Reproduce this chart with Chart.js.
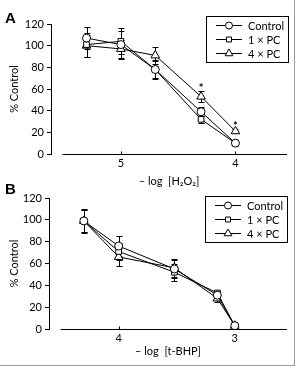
<!DOCTYPE html>
<html>
<head>
<meta charset="utf-8">
<script src="https://cdn.jsdelivr.net/npm/chart.js@4.4.1/dist/chart.umd.min.js"></script>
<style>
  html, body { margin: 0; padding: 0; background: #fff; }
  #frame { position: relative; width: 297px; height: 368px; overflow: hidden; }
  #frame::after { content: ""; position: absolute; left: 0; right: 2px; top: 0; bottom: 2px;
    border-right: 1px solid #999; border-bottom: 1px solid #999; pointer-events: none; }
  canvas { position: absolute; left: 0; }
  #chartA { top: 0; }
  #chartB { top: 184px; }
  .letter { position: absolute; left: 5px; font: bold 15px "Liberation Sans", Arial, sans-serif; }
</style>
</head>
<body>
<div id="frame">
  <canvas id="chartA" width="297" height="188"></canvas>
  <canvas id="chartB" width="297" height="184"></canvas>
  <div class="letter" style="top:9px">A</div>
  <div class="letter" style="top:180px">B</div>
</div>
<script>
const FONT = "Lato, 'Open Sans', sans-serif";
const SERIES_NAMES = ["Control", "1 × PC", "4 × PC"];
const POINT_STYLES = ["circle", "rect", "triangle"];

// Panel A: -log [H2O2]
const A_X = [5.3, 5.0, 4.7, 4.3, 4.0];
const A_CONTROL = [107, 101, 78, 39, 10];
const A_PC1 = [101, 104, 78, 32, 10];
const A_PC4 = [100, 97, 91, 53, 21];
const A_ERR_CONTROL = [10, 13, 9, 4, 2];
const A_ERR_PC1 = [11, 12, 8, 3, 2];
const A_ERR_PC4 = [10, 8, 8, 5, 2];
const A_STARS = [null, null, null, 63, 28];
const A_XTICKS = [5, 4];

// Panel B: -log [t-BHP]
const B_X = [4.3, 4.0, 3.52, 3.15, 3.0];
const B_CONTROL = [99, 76, 55, 31, 3];
const B_PC1 = [99, 71, 52, 33, 3];
const B_PC4 = [99, 66, 56, 28, 3];
const B_ERR_CONTROL = [11, 9, 8, 3, 1];
const B_ERR_PC1 = [10, 8, 8, 3, 1];
const B_ERR_PC4 = [10, 8, 8, 3, 1];
const B_STARS = [null, null, null, null, null];
const B_XTICKS = [4, 3];

const Y_MIN = 0, Y_MAX = 120, Y_STEP = 20;

function makeDatasets(xs, ys, errs) {
  return ys.map((vals, i) => ({
    label: SERIES_NAMES[i],
    data: vals.map((v, k) => ({ x: xs[k], y: v })),
    errors: errs[i],
    borderColor: "#000",
    borderWidth: 1,
    pointStyle: POINT_STYLES[i],
    pointRadius: i === 2 ? 5 : 4,
    pointBackgroundColor: "#fff",
    pointBorderColor: "#000",
    pointBorderWidth: 1,
    tension: 0,
  }));
}

// error bars, asterisks, x axis line and boxed legend
const extras = {
  id: "extras",
  beforeDatasetsDraw(chart) {
    const { ctx, scales: { x, y } } = chart;
    ctx.save();
    ctx.strokeStyle = "#000";
    ctx.lineWidth = 1;
    chart.data.datasets.forEach((ds) => {
      ds.data.forEach((p, k) => {
        const e = ds.errors[k];
        if (!e) return;
        const px = Math.round(x.getPixelForValue(p.x)) + 0.5;
        const top = Math.round(y.getPixelForValue(p.y + e)) + 0.5;
        const bot = Math.round(y.getPixelForValue(p.y - e)) + 0.5;
        ctx.beginPath();
        ctx.moveTo(px, top); ctx.lineTo(px, bot);
        ctx.moveTo(px - 3, top); ctx.lineTo(px + 3, top);
        ctx.moveTo(px - 3, bot); ctx.lineTo(px + 3, bot);
        ctx.stroke();
      });
    });
    // x axis line, a bit detached from the y axis
    const xs = chart.options.plugins.extras;
    const ay = Math.round(y.getPixelForValue(Y_MIN)) + 0.5;
    ctx.beginPath();
    ctx.moveTo(x.getPixelForValue(xs.axisStart), ay);
    ctx.lineTo(chart.chartArea.right, ay);
    xs.ticks.forEach((t) => {
      const tx = Math.round(x.getPixelForValue(t)) + 0.5;
      ctx.moveTo(tx, ay); ctx.lineTo(tx, ay - 3);
    });
    ctx.stroke();
    ctx.restore();
  },
  afterDatasetsDraw(chart) {
    const { ctx, scales: { x, y } } = chart;
    const opts = chart.options.plugins.extras;
    ctx.save();
    ctx.fillStyle = "#000";
    ctx.font = "bold 11px " + FONT;
    ctx.textAlign = "center";
    ctx.textBaseline = "middle";
    opts.stars.forEach((s, k) => {
      if (s == null) return;
      ctx.fillText("*", x.getPixelForValue(opts.starX[k]), y.getPixelForValue(s) + 3);
    });
    // legend box
    const lg = opts.legend;
    ctx.strokeStyle = "#000";
    ctx.lineWidth = 1;
    ctx.strokeRect(lg.left + 0.5, lg.top + 0.5, lg.width, lg.height);
    ctx.font = "11px " + FONT;
    ctx.textAlign = "left";
    chart.data.datasets.forEach((ds, i) => {
      const cy = Math.round(lg.top + lg.rowStart + i * lg.rowGap) + 0.5;
      const x0 = lg.left + 10, x1 = lg.left + 36, cx = (x0 + x1) / 2;
      ctx.beginPath();
      ctx.moveTo(x0, cy); ctx.lineTo(x1, cy);
      ctx.stroke();
      ctx.fillStyle = "#fff";
      Chart.helpers.drawPoint(ctx, {
        pointStyle: ds.pointStyle, radius: ds.pointRadius - 0.5, borderWidth: 1,
      }, cx, cy);
      ctx.fillStyle = "#000";
      ctx.fillText(ds.label, lg.left + 42, cy + 1);
    });
    ctx.restore();
  },
};

function makeChart(canvasId, xs, series, errs, xTicks, xMin, xMax, axisStart, stars, xTitle, pad, yWidth, xHeight, legend) {
  return new Chart(document.getElementById(canvasId), {
    type: "line",
    data: { datasets: makeDatasets(xs, series, errs) },
    plugins: [extras],
    options: {
      responsive: false,
      animation: false,
      layout: { padding: pad },
      plugins: {
        legend: { display: false },
        tooltip: { enabled: false },
        extras: { axisStart, ticks: xTicks, stars, starX: xs, legend },
      },
      scales: {
        x: {
          type: "linear",
          reverse: true,
          min: xMin,
          max: xMax,
          afterBuildTicks: (s) => { s.ticks = xTicks.map((v) => ({ value: v })); },
          afterFit: (s) => { s.height = xHeight; },
          grid: { display: false, drawTicks: false },
          border: { display: false },
          ticks: { color: "#000", font: { family: FONT, size: 11 }, padding: 3, maxRotation: 0 },
          title: { display: true, text: xTitle, color: "#000", font: { family: FONT, size: 11 }, padding: { top: 2, bottom: 0 } },
        },
        y: {
          min: Y_MIN,
          max: Y_MAX,
          afterFit: (s) => { s.width = yWidth; },
          ticks: { stepSize: Y_STEP, color: "#000", font: { family: FONT, size: 11 }, padding: 3 },
          grid: { drawOnChartArea: false, drawTicks: true, tickLength: 4, color: "#000" },
          border: { display: true, color: "#000", width: 1 },
          title: { display: true, text: "% Control", color: "#000", font: { family: FONT, size: 11 }, padding: { top: 3, bottom: 4 } },
        },
      },
    },
  });
}

makeChart("chartA", A_X, [A_CONTROL, A_PC1, A_PC4],
  [A_ERR_CONTROL, A_ERR_PC1, A_ERR_PC4], A_XTICKS, 3.55, 5.61, 5.51, A_STARS,
  "– log  [H₂O₂]", { left: 5, right: 10, top: 24, bottom: 0 }, 46, 34,
  { left: 206, top: 16, width: 82, height: 46, rowStart: 9, rowGap: 14 });

makeChart("chartB", B_X, [B_CONTROL, B_PC1, B_PC4],
  [B_ERR_CONTROL, B_ERR_PC1, B_ERR_PC4], B_XTICKS, 2.55, 4.6, 4.5, B_STARS,
  "– log  [t-BHP]", { left: 5, right: 10, top: 14, bottom: 10 }, 44, 29,
  { left: 205, top: 12, width: 82, height: 46, rowStart: 9, rowGap: 14 });
</script>
</body>
</html>
